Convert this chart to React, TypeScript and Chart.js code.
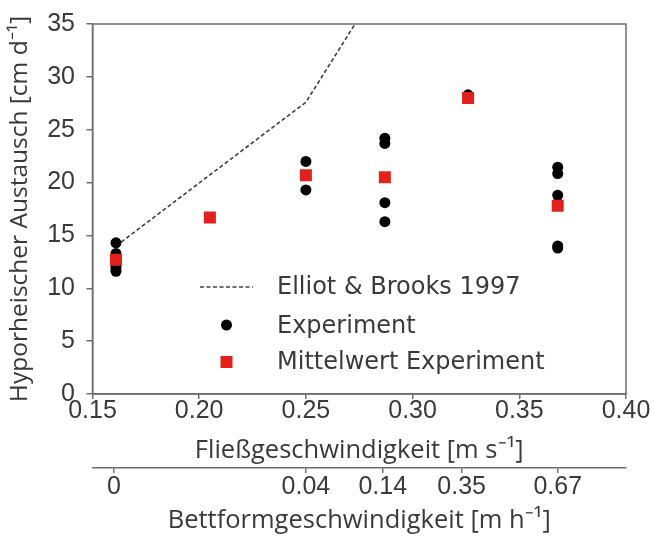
import React, { useEffect, useRef } from 'react';
import { Chart, registerables } from 'chart.js';

Chart.register(...registerables);

// Fließgeschwindigkeit [m s-1] axis ticks
const velocityTicks = [0.15, 0.2, 0.25, 0.3, 0.35, 0.4];
// Hyporheischer Austausch [cm d-1] axis ticks
const exchangeTicks = [0, 5, 10, 15, 20, 25, 30, 35];

// Individual experiments
const expVelocity = [
  0.161, 0.161, 0.161, 0.161, 0.161,
  0.205,
  0.25, 0.25,
  0.287, 0.287, 0.287, 0.287,
  0.326, 0.326,
  0.368, 0.368, 0.368, 0.368, 0.368,
];
const expExchange = [
  14.3, 13.3, 12.2, 11.9, 11.6,
  16.7,
  22.0, 19.3,
  24.2, 23.7, 18.1, 16.3,
  28.3, 28.0,
  21.45, 20.85, 18.8, 14.0, 13.8,
];

// Mean per flow velocity
const meanVelocity = [0.161, 0.205, 0.25, 0.287, 0.326, 0.368];
const meanExchange = [12.7, 16.7, 20.7, 20.5, 28.0, 17.8];

// Elliot & Brooks 1997 model
const elliotVelocity = [0.161, 0.25, 0.287];
const elliotExchange = [14.0, 27.6, 39.5];

// Bettformgeschwindigkeit [m h-1] secondary axis
const bedformAt = [0.16, 0.25, 0.286, 0.323, 0.368];
const bedformLabels = ['0', '0.04', '0.14', '0.35', '0.67'];

const RED = '#e3211c';
const AXIS = '#6e6e6e';
const TEXT = '#3a3a3a';
const TICK_FONT = { family: '"Liberation Sans", Arial, sans-serif', size: 25, lineHeight: 1 };
const X_TITLE_FONT = { family: '"Open Sans", sans-serif', size: 25.5, lineHeight: 1 };
const Y_TITLE_FONT = { family: '"Open Sans", sans-serif', size: 24.5, lineHeight: 1 };

const frameAndLegend = {
  id: 'frameAndLegend',
  afterDraw(chart: any) {
    const { ctx, chartArea: ca } = chart;
    ctx.save();
    ctx.strokeStyle = AXIS;
    ctx.lineWidth = 1.5;
    ctx.strokeRect(ca.left, ca.top, ca.right - ca.left, ca.bottom - ca.top);

    const ds = chart.data.datasets;
    const lineStart = ca.left + 107.5;
    const lineEnd = ca.left + 160.5;
    const markX = ca.left + 134;
    const textX = ca.left + 184.5;
    const rows = [ca.top + 263, ca.top + 301, ca.top + 338];
    ctx.font = '24px "DejaVu Sans", sans-serif';
    ctx.fillStyle = TEXT;
    ctx.textBaseline = 'middle';
    ctx.textAlign = 'left';

    // Elliot & Brooks line
    const el = ds[2];
    ctx.strokeStyle = el.borderColor;
    ctx.lineWidth = el.borderWidth;
    ctx.setLineDash(el.borderDash);
    ctx.beginPath();
    ctx.moveTo(lineStart, rows[0]);
    ctx.lineTo(lineEnd, rows[0]);
    ctx.stroke();
    ctx.setLineDash([]);
    ctx.fillStyle = TEXT;
    ctx.fillText(el.label, textX, rows[0] + 1);

    // Experiment dot
    const ex = ds[1];
    ctx.fillStyle = ex.backgroundColor;
    ctx.beginPath();
    ctx.arc(markX, rows[1], ex.pointRadius, 0, Math.PI * 2);
    ctx.fill();
    ctx.fillStyle = TEXT;
    ctx.fillText(ex.label, textX, rows[1] + 2);

    // Mean square
    const mn = ds[0];
    const half = mn.pointRadius * Math.SQRT1_2;
    ctx.fillStyle = mn.backgroundColor;
    ctx.fillRect(markX - half, rows[2] - half, half * 2, half * 2);
    ctx.fillStyle = TEXT;
    ctx.fillText(mn.label, textX, rows[2] + 1);
    ctx.restore();
  },
};

export default function App() {
  const ref = useRef<HTMLCanvasElement>(null);

  useEffect(() => {
    document.body.style.margin = '0';
    const chart = new Chart(ref.current!, {
      type: 'scatter',
      data: {
        datasets: [
          {
            label: 'Mittelwert Experiment',
            data: meanVelocity.map((x, i) => ({ x, y: meanExchange[i] })),
            pointStyle: 'rect',
            pointRadius: 8.5,
            pointHoverRadius: 8.5,
            backgroundColor: RED,
            borderColor: RED,
            borderWidth: 0,
            order: 0,
          },
          {
            label: 'Experiment',
            data: expVelocity.map((x, i) => ({ x, y: expExchange[i] })),
            pointStyle: 'circle',
            pointRadius: 5.5,
            pointHoverRadius: 5.5,
            backgroundColor: '#000000',
            borderColor: '#000000',
            borderWidth: 0,
            order: 1,
          },
          {
            label: 'Elliot & Brooks 1997',
            type: 'line',
            data: elliotVelocity.map((x, i) => ({ x, y: elliotExchange[i] })),
            showLine: true,
            borderColor: '#404040',
            borderWidth: 1.6,
            borderDash: [4, 2.5],
            pointRadius: 0,
            fill: false,
            tension: 0,
            order: 2,
          } as any,
        ],
      },
      options: {
        animation: false,
        responsive: false,
        layout: { padding: { left: 0, right: 29, top: 18, bottom: 0 } },
        plugins: { legend: { display: false }, tooltip: { enabled: false } },
        scales: {
          x: {
            type: 'linear',
            position: 'bottom',
            weight: 0,
            min: 0.15,
            max: 0.4,
            afterBuildTicks: (s: any) => {
              s.ticks = velocityTicks.map((v) => ({ value: v }));
            },
            afterFit: (s: any) => {
              s.height = 74;
            },
            ticks: {
              callback: (v: any) => Number(v).toFixed(2),
              font: TICK_FONT,
              color: TEXT,
              padding: 0,
              maxRotation: 0,
              autoSkip: false,
            },
            grid: { display: true, drawOnChartArea: false, tickLength: 5, color: AXIS, lineWidth: 1.5 },
            border: { display: true, color: AXIS, width: 1.5 },
            title: {
              display: true,
              text: 'Fließgeschwindigkeit [m s⁻¹]',
              font: X_TITLE_FONT,
              color: TEXT,
              padding: { top: 0, bottom: 5 },
            },
          },
          x2: {
            type: 'linear',
            position: 'bottom',
            weight: 1,
            min: 0.15,
            max: 0.4,
            afterBuildTicks: (s: any) => {
              s.ticks = bedformAt.map((v) => ({ value: v }));
            },
            afterFit: (s: any) => {
              s.height = 69;
            },
            ticks: {
              callback: (_v: any, i: number) => bedformLabels[i],
              font: TICK_FONT,
              color: TEXT,
              padding: 1.5,
              maxRotation: 0,
              autoSkip: false,
            },
            grid: { display: true, drawOnChartArea: false, tickLength: 5, color: AXIS, lineWidth: 1.5 },
            border: { display: true, color: AXIS, width: 1.5 },
            title: {
              display: true,
              text: 'Bettformgeschwindigkeit [m h⁻¹]',
              font: X_TITLE_FONT,
              color: TEXT,
              padding: { top: 0, bottom: 3.5 },
            },
          },
          y: {
            type: 'linear',
            position: 'left',
            min: 0,
            max: 35,
            afterBuildTicks: (s: any) => {
              s.ticks = exchangeTicks.map((v) => ({ value: v }));
            },
            afterFit: (s: any) => {
              s.width = 92.5;
            },
            ticks: {
              font: TICK_FONT,
              color: TEXT,
              padding: 11.5,
              autoSkip: false,
            },
            grid: { display: true, drawOnChartArea: false, tickLength: 6, color: AXIS, lineWidth: 1.5 },
            border: { display: true, color: AXIS, width: 1.5 },
            title: {
              display: true,
              text: 'Hyporheischer Austausch [cm d⁻¹]',
              font: Y_TITLE_FONT,
              color: TEXT,
              padding: { top: 8, bottom: 0 },
            },
          },
        },
      } as any,
      plugins: [frameAndLegend],
    });
    return () => chart.destroy();
  }, []);

  return (
    <div style={{ position: 'absolute', left: 0, top: 0, width: 655, height: 537 }}>
      <canvas ref={ref} width={655} height={537} style={{ display: 'block' }} />
    </div>
  );
}
